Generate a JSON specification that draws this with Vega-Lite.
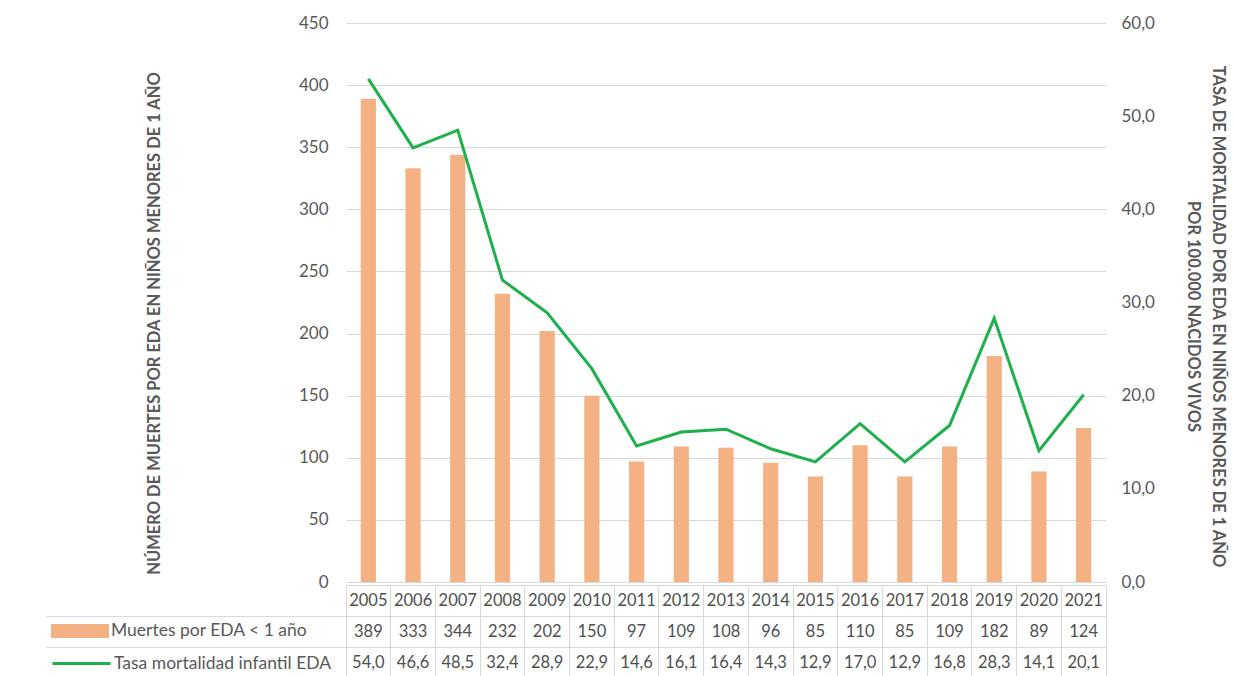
{
  "$schema": "https://vega.github.io/schema/vega-lite/v6.json",
  "padding": {"left": 45, "top": 14, "right": 5, "bottom": 0},
  "spacing": 3,
  "bounds": "flush",
  "data": {"values": [
    {"year": "2005", "muertes": 389, "tasa": 54.0},
    {"year": "2006", "muertes": 333, "tasa": 46.6},
    {"year": "2007", "muertes": 344, "tasa": 48.5},
    {"year": "2008", "muertes": 232, "tasa": 32.4},
    {"year": "2009", "muertes": 202, "tasa": 28.9},
    {"year": "2010", "muertes": 150, "tasa": 22.9},
    {"year": "2011", "muertes": 97, "tasa": 14.6},
    {"year": "2012", "muertes": 109, "tasa": 16.1},
    {"year": "2013", "muertes": 108, "tasa": 16.4},
    {"year": "2014", "muertes": 96, "tasa": 14.3},
    {"year": "2015", "muertes": 85, "tasa": 12.9},
    {"year": "2016", "muertes": 110, "tasa": 17.0},
    {"year": "2017", "muertes": 85, "tasa": 12.9},
    {"year": "2018", "muertes": 109, "tasa": 16.8},
    {"year": "2019", "muertes": 182, "tasa": 28.3},
    {"year": "2020", "muertes": 89, "tasa": 14.1},
    {"year": "2021", "muertes": 124, "tasa": 20.1}
  ]},
  "resolve": {"scale": {"x": "independent"}},
  "vconcat": [
    {
      "width": 760,
      "height": 559,
      "layer": [
        {
          "mark": {"type": "bar"},
          "encoding": {
            "x": {"field": "year", "type": "nominal", "scale": {"paddingInner": 0.66, "paddingOuter": 0.33}, "axis": null},
            "y": {"field": "muertes", "type": "quantitative", "scale": {"domain": [0, 450]},
              "axis": {"orient": "left", "values": [0, 50, 100, 150, 200, 250, 300, 350, 400, 450], "grid": true, "gridColor": "#D9D9D9", "domain": false, "ticks": false, "labelPadding": 18,
                "title": "NÚMERO DE MUERTES POR EDA EN NIÑOS MENORES DE 1 AÑO", "titleFontWeight": "bold", "titleFontSize": 16.5, "titlePadding": 136, "titleY": 300}},
            "fill": {"datum": "Muertes por EDA < 1 año", "type": "nominal", "scale": {"range": ["#F4B183"]},
              "legend": {"title": null, "orient": "none", "legendX": -295, "legendY": 579, "symbolType": "M-1,-0.24H1V0.24H-1Z", "symbolSize": 3364, "symbolStrokeWidth": 0, "labelFontSize": 17.5, "labelColor": "#595959", "labelOffset": 2, "labelLimit": 300}}
          }
        },
        {
          "mark": {"type": "line", "strokeWidth": 3},
          "encoding": {
            "x": {"field": "year", "type": "nominal"},
            "y": {"field": "tasa", "type": "quantitative", "scale": {"domain": [0, 60]},
              "axis": {"orient": "right", "values": [0, 10, 20, 30, 40, 50, 60], "format": ".1f", "grid": false, "domain": false, "ticks": false, "labelPadding": 15,
                "title": ["TASA DE MORTALIDAD POR EDA EN NIÑOS MENORES DE 1 AÑO", "POR 100.000 NACIDOS VIVOS"], "titleFontWeight": "bold", "titleFontSize": 16.5, "titlePadding": 30, "titleLineHeight": 25, "titleY": 293}},
            "stroke": {"datum": "Tasa mortalidad infantil EDA", "type": "nominal", "scale": {"range": ["#1DB04B"]},
              "legend": {"title": null, "orient": "none", "legendX": -295, "legendY": 610, "symbolType": "stroke", "symbolSize": 3364, "symbolStrokeWidth": 3, "labelFontSize": 17.5, "labelColor": "#595959", "labelOffset": 2, "labelLimit": 300}}
          }
        }
      ],
      "resolve": {"scale": {"y": "independent"}}
    },
    {
      "width": 760,
      "height": 93,
      "view": {"stroke": "#D9D9D9"},
      "encoding": {
        "x": {"field": "year", "type": "nominal", "scale": {"type": "band", "paddingInner": 0, "paddingOuter": 0},
          "axis": {"orient": "bottom", "labels": false, "ticks": false, "domain": false, "grid": true, "gridColor": "#D9D9D9", "bandPosition": 0, "title": null}}
      },
      "layer": [
        {
          "mark": {"type": "text", "fontSize": 16.5, "color": "#505050"},
          "encoding": {
            "y": {"datum": "Año", "type": "nominal", "scale": {"type": "band", "domain": ["Año", "Muertes", "Tasa"], "paddingInner": 0, "paddingOuter": 0},
              "axis": {"values": ["Muertes", "Tasa"], "labels": false, "domain": false, "ticks": true, "tickSize": 300, "tickColor": "#D9D9D9", "grid": true, "gridColor": "#D9D9D9", "bandPosition": 0, "title": null}},
            "text": {"field": "year"}
          }
        },
        {
          "mark": {"type": "text", "fontSize": 16.5, "color": "#505050"},
          "encoding": {
            "y": {"datum": "Muertes", "type": "nominal"},
            "text": {"field": "muertes", "type": "quantitative", "format": "d"}
          }
        },
        {
          "mark": {"type": "text", "fontSize": 16.5, "color": "#505050"},
          "encoding": {
            "y": {"datum": "Tasa", "type": "nominal"},
            "text": {"field": "tasa", "type": "quantitative", "format": ".1f"}
          }
        }
      ]
    }
  ],
  "config": {
    "font": "Lato",
    "locale": {"number": {"decimal": ",", "thousands": ".", "grouping": [3], "currency": ["", ""]}},
    "view": {"stroke": null},
    "axis": {"labelColor": "#595959", "labelFontSize": 17, "titleColor": "#595959", "labelFont": "Lato", "titleFont": "Lato"},
    "legend": {"labelFont": "Lato"}
  }
}
